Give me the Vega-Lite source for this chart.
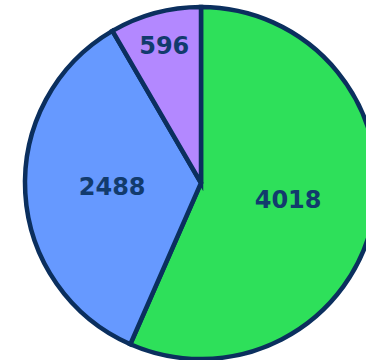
{
  "$schema": "https://vega.github.io/schema/vega-lite/v6.json",
  "autosize": "none",
  "width": 330,
  "height": 354,
  "padding": {"left": 36, "top": 6, "right": 0, "bottom": 0},
  "background": "white",
  "data": {"values": [
    {"slice": "A", "value": 4018},
    {"slice": "B", "value": 2488},
    {"slice": "C", "value": 596}
  ]},
  "encoding": {
    "theta": {"field": "value", "type": "quantitative", "stack": true},
    "order": {"field": "value", "type": "quantitative", "sort": "descending"}
  },
  "layer": [
    {
      "mark": {"type": "arc", "radius": 176, "stroke": "#0B2F5E", "strokeWidth": 4.5},
      "encoding": {
        "color": {"field": "slice", "type": "nominal", "legend": null,
          "scale": {"domain": ["A", "B", "C"], "range": ["#2EE05A", "#6699FF", "#B388FF"]}}
      }
    },
    {
      "mark": {"type": "text", "font": "DejaVu Sans", "fontWeight": "bold", "fontSize": 24, "color": "#123B6D", "baseline": "middle", "align": "center"},
      "encoding": {
        "detail": {"field": "slice", "type": "nominal"},
        "text": {"field": "value", "type": "quantitative", "format": "d"},
        "radius": {"field": "value", "type": "quantitative", "scale": {"type": "linear", "domain": [596, 2488], "range": [141, 89], "clamp": true, "zero": false}}
      }
    }
  ],
  "config": {"view": {"stroke": null}}
}
